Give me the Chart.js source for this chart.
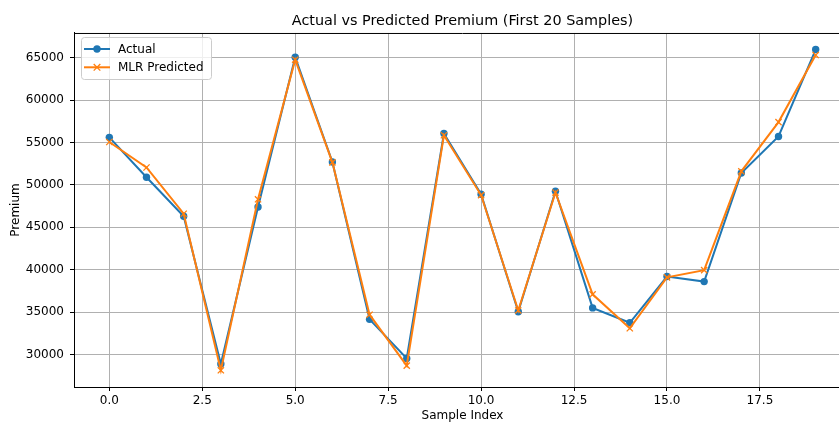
<!DOCTYPE html>
<html>
<head>
<meta charset="utf-8">
<script src="https://cdn.jsdelivr.net/npm/chart.js@4.4.1/dist/chart.umd.min.js"></script>
<style>
  html, body { margin: 0; padding: 0; background: #fff; overflow: hidden; }
  #wrap { width: 860px; height: 424px; }
</style>
</head>
<body>
<div id="wrap"><canvas id="c" width="860" height="424"></canvas></div>
<script>
const sampleIndex = [0,1,2,3,4,5,6,7,8,9,10,11,12,13,14,15,16,17,18,19];
const actual = [55600, 50900, 46300, 28900, 47400, 65050, 52700, 34150, 29550, 56050, 48900, 35050, 49250, 35500, 33750, 39200, 38600, 51400, 55700, 65950];
const predicted = [55050, 52050, 46600, 28150, 48300, 64750, 52650, 34700, 28700, 55850, 48800, 35200, 49100, 37100, 33100, 39100, 39950, 51600, 57400, 65300];
const xTicks = [0, 2.5, 5, 7.5, 10, 12.5, 15, 17.5];
const yTicks = [30000, 35000, 40000, 45000, 50000, 55000, 60000, 65000];
const titleText = 'Actual vs Predicted Premium (First 20 Samples)';
const xLabel = 'Sample Index';
const yLabel = 'Premium';
const seriesNames = ['Actual', 'MLR Predicted'];

const FONT = "'DejaVu Sans', sans-serif";
const BLUE = '#1f77b4', ORANGE = '#ff7f0e';
const TICK_SIZE = 12;

const spinePlugin = {
  id: 'spines',
  beforeDatasetsDraw(chart) {
    const {ctx, chartArea: a} = chart;
    ctx.save();
    ctx.strokeStyle = '#000';
    ctx.lineWidth = 1;
    ctx.beginPath();
    ctx.moveTo(a.left, a.top + 0.5);
    ctx.lineTo(a.right, a.top + 0.5);
    ctx.moveTo(a.right - 0.5, a.top);
    ctx.lineTo(a.right - 0.5, a.bottom);
    ctx.stroke();
    ctx.restore();
  }
};

const legendPlugin = {
  id: 'mplLegend',
  afterDraw(chart) {
    const {ctx} = chart;
    const x = 81, y = 37, w = 130, h = 42, r = 3;
    ctx.save();
    ctx.globalAlpha = 0.8;
    ctx.fillStyle = '#fff';
    ctx.beginPath();
    ctx.roundRect(x + 0.5, y + 0.5, w, h, r);
    ctx.fill();
    ctx.globalAlpha = 1;
    ctx.strokeStyle = '#cccccc';
    ctx.lineWidth = 1;
    ctx.stroke();
    const rows = [49, 67.3];
    chart.data.datasets.forEach((ds, i) => {
      const cy = rows[i];
      ctx.strokeStyle = ds.borderColor;
      ctx.lineWidth = ds.borderWidth;
      ctx.beginPath();
      ctx.moveTo(84, cy);
      ctx.lineTo(110, cy);
      ctx.stroke();
      if (ds.pointStyle === 'circle') {
        ctx.fillStyle = ds.borderColor;
        ctx.beginPath();
        ctx.arc(97, cy, 3.7, 0, Math.PI * 2);
        ctx.fill();
      } else {
        ctx.lineWidth = 1.3;
        const d = 3.3;
        ctx.beginPath();
        ctx.moveTo(97 - d, cy - d); ctx.lineTo(97 + d, cy + d);
        ctx.moveTo(97 - d, cy + d); ctx.lineTo(97 + d, cy - d);
        ctx.stroke();
      }
      ctx.fillStyle = '#000';
      ctx.font = TICK_SIZE + 'px ' + FONT;
      ctx.textBaseline = 'middle';
      ctx.textAlign = 'left';
      ctx.fillText(ds.label, 118, cy + 0.5);
    });
    ctx.restore();
  }
};

new Chart(document.getElementById('c'), {
  type: 'line',
  data: {
    labels: sampleIndex,
    datasets: [
      {
        label: seriesNames[0],
        data: sampleIndex.map((x, i) => ({x, y: actual[i]})),
        borderColor: BLUE,
        backgroundColor: BLUE,
        borderWidth: 2,
        pointStyle: 'circle',
        pointRadius: 3.7,
        pointBorderWidth: 0,
        pointBackgroundColor: BLUE,
        tension: 0,
        order: 1
      },
      {
        label: seriesNames[1],
        data: sampleIndex.map((x, i) => ({x, y: predicted[i]})),
        borderColor: ORANGE,
        backgroundColor: ORANGE,
        borderWidth: 2,
        pointStyle: 'crossRot',
        pointRadius: 4.4,
        pointBorderWidth: 1.3,
        pointBorderColor: ORANGE,
        tension: 0,
        order: 0
      }
    ]
  },
  options: {
    responsive: false,
    animation: false,
    devicePixelRatio: 1,
    layout: { padding: { left: 0, right: 9, top: 0, bottom: 0 } },
    plugins: {
      legend: { display: false },
      tooltip: { enabled: false },
      title: {
        display: true,
        text: titleText,
        fullSize: false,
        color: '#000',
        font: { family: FONT, size: 14.4, weight: 'normal', lineHeight: 1.2 },
        padding: { top: 13, bottom: 2.7 }
      }
    },
    scales: {
      x: {
        type: 'linear',
        min: -0.95,
        max: 19.95,
        afterBuildTicks: s => { s.ticks = xTicks.map(v => ({value: v})); },
        afterFit: s => { s.height = 37; },
        ticks: {
          color: '#000',
          font: { family: FONT, size: TICK_SIZE },
          padding: 3,
          maxRotation: 0,
          autoSkip: false,
          callback: v => Number(v).toFixed(1)
        },
        grid: { color: '#b0b0b0', lineWidth: 1, tickColor: '#000', tickLength: 4, drawTicks: true },
        border: { color: '#000', width: 1 },
        title: {
          display: true, text: xLabel, color: '#000',
          font: { family: FONT, size: TICK_SIZE, lineHeight: 1.2 },
          padding: { top: 0, bottom: 1 }
        }
      },
      y: {
        type: 'linear',
        min: 26180,
        max: 67900,
        afterBuildTicks: s => { s.ticks = yTicks.map(v => ({value: v})); },
        afterFit: s => { s.width = 74; },
        ticks: {
          color: '#000',
          font: { family: FONT, size: TICK_SIZE },
          padding: 6,
          autoSkip: false,
          callback: v => String(v)
        },
        grid: { color: '#b0b0b0', lineWidth: 1, tickColor: '#000', tickLength: 4, drawTicks: true },
        border: { color: '#000', width: 1 },
        title: {
          display: true, text: yLabel, color: '#000',
          font: { family: FONT, size: TICK_SIZE, lineHeight: 1.2 },
          padding: { top: 8.5, bottom: 0 }
        }
      }
    }
  },
  plugins: [spinePlugin, legendPlugin]
});
</script>
</body>
</html>
